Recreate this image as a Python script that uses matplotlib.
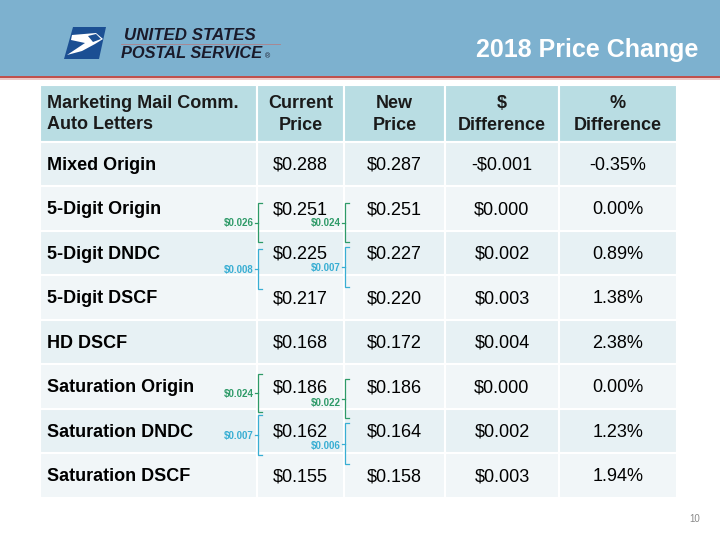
import matplotlib.pyplot as plt
from matplotlib.patches import Rectangle, Polygon

plt.rcParams['font.family'] = ['Liberation Sans', 'DejaVu Sans']

# ---- table content ----
title = "2018 Price Change"
corner_header = "Marketing Mail Comm.\nAuto Letters"
col_headers = ["Current\nPrice", "New\nPrice", "$\nDifference", "%\nDifference"]
rows = ["Mixed Origin", "5-Digit Origin", "5-Digit DNDC", "5-Digit DSCF",
        "HD DSCF", "Saturation Origin", "Saturation DNDC", "Saturation DSCF"]
current = ["$0.288", "$0.251", "$0.225", "$0.217", "$0.168", "$0.186", "$0.162", "$0.155"]
new = ["$0.287", "$0.251", "$0.227", "$0.220", "$0.172", "$0.186", "$0.164", "$0.158"]
dollar_diff = ["-$0.001", "$0.000", "$0.002", "$0.003", "$0.004", "$0.000", "$0.002", "$0.003"]
pct_diff = ["-0.35%", "0.00%", "0.89%", "1.38%", "2.38%", "0.00%", "1.23%", "1.94%"]

# passthrough brackets: label, colour, column edge index
bracket_labels = ["$0.026", "$0.024", "$0.008", "$0.007",
                  "$0.024", "$0.022", "$0.007", "$0.006"]
bracket_cols = [1, 2, 1, 2, 1, 2, 1, 2]
bracket_kind = ["g", "g", "b", "b", "g", "g", "b", "b"]
# vertical spans and label nudges in pixels (layout)
bracket_spans = [(203, 242), (203, 242), (249, 289), (247, 287),
                 (374, 412), (379, 418), (415, 455), (423, 464)]
label_nudge = [0, 0, 0, 0, 0, 4, 0, 1.5]

# ---- layout ----
W, H = 720, 540
col_edges = [40, 257, 344, 445, 559, 677]
head_top, head_bot = 85, 141.5
row_h = 44.5
band = "#7DB1CF"
head_col = "#B9DDE3"
row_cols = ["#E7F1F4", "#F1F6F8"]
green, blue = "#2E9A68", "#38AED3"

fig = plt.figure(figsize=(7.2, 5.4), dpi=100)
ax = fig.add_axes([0, 0, 1, 1])
ax.set_xlim(0, W)
ax.set_ylim(H, 0)
ax.axis('off')

# header band
ax.add_patch(Rectangle((0, 0), W, 76, color=band, lw=0))
ax.add_patch(Rectangle((0, 76), W, 2, color="#C0504D", lw=0))
ax.add_patch(Rectangle((0, 78), W, 1.5, color="#EBC9C8", lw=0))
ax.text(698, 50, title, ha='right', va='center', color='white',
        fontsize=18, fontweight='bold')

# logo
ax.add_patch(Polygon([(73, 27), (106, 27), (99, 59), (64, 59)], closed=True,
                     color="#1B4F93", lw=0))
ax.add_patch(Polygon([(72, 35), (96, 33), (103, 39), (95, 44), (82, 51),
                      (67, 55), (85, 43), (71, 40)], closed=True,
                     color="white", lw=0))
ax.add_patch(Polygon([(88, 36), (96, 34), (101, 39), (93, 42)], closed=True,
                     color="#1B4F93", lw=0))
ax.text(124, 35, "UNITED STATES", fontsize=12.2,
        fontweight='bold', style='italic', color="#1A1A2A", va='center')
ax.text(121, 53, "POSTAL SERVICE", fontsize=11.8,
        fontweight='bold', style='italic', color="#1A1A2A", va='center')
ax.plot([121, 280], [44, 44], color="#B08088", lw=0.6)
ax.text(265, 57, "\u00ae", fontsize=5, color="#1A1A2A", va='center')

# header row
for j in range(5):
    x0, x1 = col_edges[j], col_edges[j + 1]
    ax.add_patch(Rectangle((x0, head_top), x1 - x0, head_bot - head_top,
                           facecolor=head_col, edgecolor='white', lw=1.5))
ax.text(47, 114, corner_header, ha='left', va='center', fontsize=13,
        fontweight='bold', color="#1A1A1A", linespacing=1.3)
for j, h in enumerate(col_headers):
    xc = (col_edges[j + 1] + col_edges[j + 2]) / 2
    ax.text(xc, 114.5, h, ha='center', va='center', fontsize=13,
            fontweight='bold', color="#1A1A1A", linespacing=1.4)

# body rows
cols = [current, new, dollar_diff, pct_diff]
for i, name in enumerate(rows):
    y0 = head_bot + i * row_h
    yb = y0 + row_h / 2 + 6
    for j in range(5):
        x0, x1 = col_edges[j], col_edges[j + 1]
        ax.add_patch(Rectangle((x0, y0), x1 - x0, row_h,
                               facecolor=row_cols[i % 2], edgecolor='white', lw=1.5))
    ax.text(47, yb, name, ha='left', va='baseline', fontsize=13,
            fontweight='bold', color="black")
    for j, vals in enumerate(cols):
        xc = (col_edges[j + 1] + col_edges[j + 2]) / 2
        ax.text(xc, yb, vals[i], ha='center', va='baseline', fontsize=13,
                color="black")

# brackets
for lab, cj, kind, (t, b), dy in zip(bracket_labels, bracket_cols, bracket_kind,
                                     bracket_spans, label_nudge):
    c = green if kind == "g" else blue
    x = col_edges[cj] + 1
    m = (t + b) / 2
    ax.plot([x + 4, x, x, x + 4], [t, t, b, b], color=c, lw=0.9,
            solid_joinstyle='miter')
    ax.plot([x, x - 3.5], [m, m], color=c, lw=0.9)
    ax.text(x - 4, m + 0.5 + dy, lab, ha='right', va='center', fontsize=7,
            fontweight='bold', color=c)

ax.text(695, 519, "10", ha='center', va='center', fontsize=7, color="#8A8A8A")

fig.savefig("out.png", dpi=100)
